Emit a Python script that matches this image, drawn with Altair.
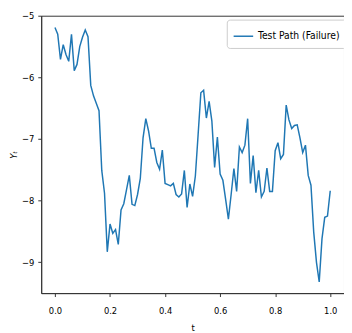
import altair as alt
import pandas as pd

t_values = [round(i * 0.01, 2) for i in range(101)]
y_values = [
    -5.19, -5.30, -5.71, -5.47, -5.63, -5.74, -5.30, -5.89, -5.79, -5.50,
    -5.35, -5.23, -5.34, -6.13, -6.30, -6.42, -6.54, -7.51, -7.88, -8.83,
    -8.38, -8.53, -8.47, -8.71, -8.15, -8.05, -7.82, -7.59, -8.06, -8.08,
    -7.90, -7.64, -6.98, -6.67, -6.87, -7.15, -7.15, -7.38, -7.49, -7.18,
    -7.72, -7.74, -7.76, -7.72, -7.90, -7.94, -7.89, -7.51, -8.11, -7.73,
    -7.93, -7.60, -6.93, -6.25, -6.21, -6.66, -6.39, -6.71, -7.46, -6.97,
    -7.57, -7.67, -7.98, -8.30, -7.90, -7.48, -7.85, -7.13, -7.22, -7.10,
    -6.67, -7.72, -7.27, -7.87, -7.51, -7.94, -7.85, -7.47, -7.85, -7.85,
    -7.19, -7.06, -7.32, -7.25, -6.45, -6.69, -6.83, -6.78, -6.77, -6.98,
    -7.22, -7.10, -7.59, -7.75, -8.51, -9.00, -9.32, -8.62, -8.27, -8.25,
    -7.84,
]
series_name = "Test Path (Failure)"
x_ticks = [0.0, 0.2, 0.4, 0.6, 0.8, 1.0]
y_ticks = [-9, -8, -7, -6, -5]

FONT = "DejaVu Sans Condensed, DejaVu Sans"

df = pd.DataFrame({"t": t_values, "y": y_values, "series": series_name})

chart = alt.Chart(df).mark_line(strokeWidth=1.5).encode(
    x=alt.X("t:Q", scale=alt.Scale(domain=[-0.05, 1.05], nice=False, zero=False),
            axis=alt.Axis(title="t", values=x_ticks, format=".1f",
                          labelPadding=9, titlePadding=8)),
    y=alt.Y("y:Q", scale=alt.Scale(domain=[-9.5, -5.0], nice=False, zero=False),
            axis=alt.Axis(title="Yₜ", values=y_ticks, format="d",
                          labelExpr="replace(datum.label, '-', '−')",
                          labelPadding=4, titlePadding=3, titleFontStyle="italic")),
    color=alt.Color("series:N", scale=alt.Scale(range=["#1f77b4"]),
                    legend=alt.Legend(title=None, orient="none", legendX=190, legendY=4,
                                      symbolType="stroke",
                                      symbolStrokeWidth=1.5, symbolSize=400,
                                      fillColor="white", strokeColor="#cccccc",
                                      cornerRadius=3, padding=6,
                                      labelFontSize=10.5, labelFont=FONT,
                                      labelColor="#000000")),
).properties(
    width=310, height=284,
    autosize=alt.AutoSizeParams(type="none"),
    padding={"left": 34, "top": 4, "right": 0, "bottom": 40},
).configure_view(
    stroke="#333333", strokeWidth=1
).configure_axis(
    grid=False, domainColor="#333333", tickColor="#333333", tickSize=3.5,
    labelFont=FONT, labelFontSize=9.5, labelColor="#000000",
    titleFont=FONT, titleFontSize=9.5, titleFontWeight="normal", titleColor="#000000",
)

chart.save("out.html", embed_options={"renderer": "svg", "actions": False})
